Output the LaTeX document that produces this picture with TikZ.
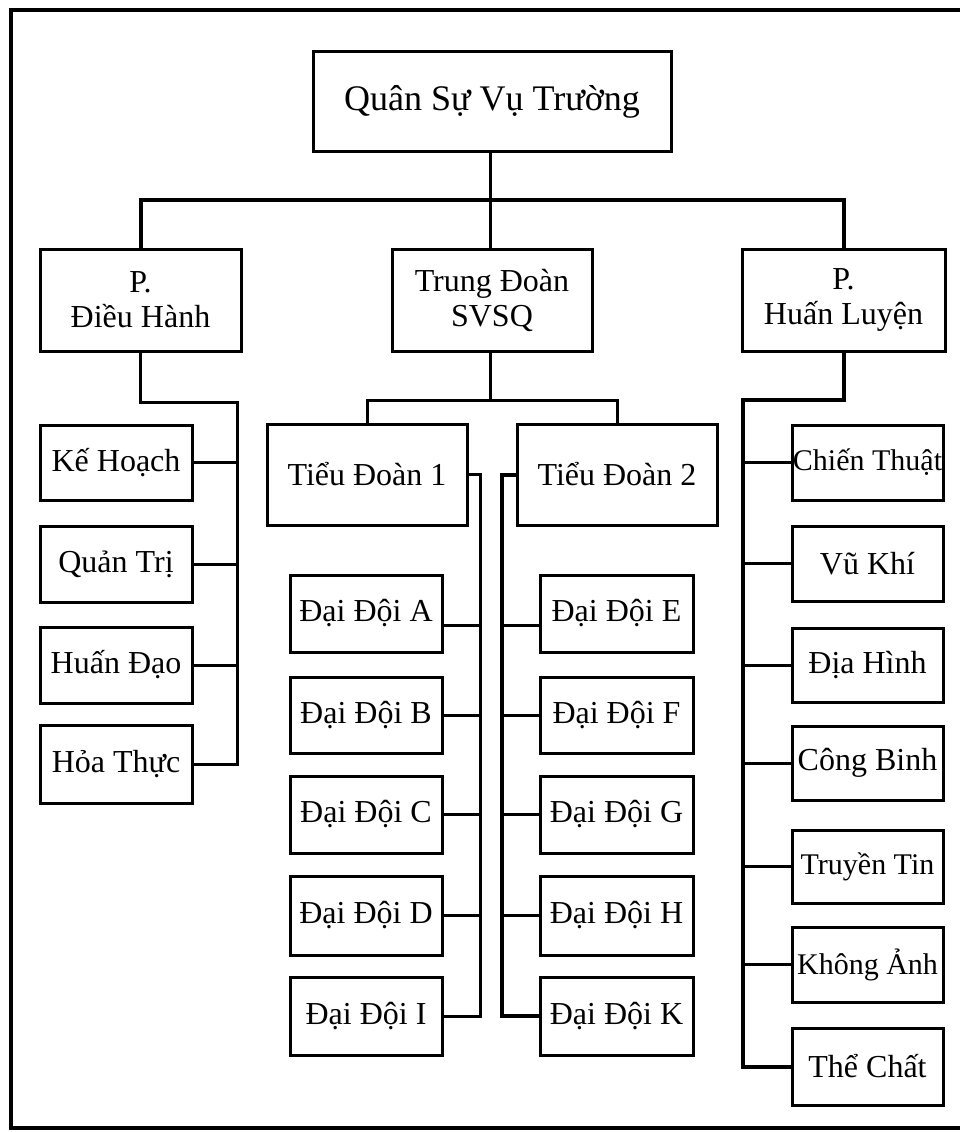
\documentclass[tikz,border=0pt]{standalone}
\usepackage{fontspec}
\setmainfont{Liberation Serif}
\begin{document}
\begin{tikzpicture}[x=1pt,y=-1pt,
  box/.style={draw,line width=3pt,inner sep=0pt,font=\fontsize{32}{35}\selectfont,align=center},
  smallbox/.style={box,font=\fontsize{30}{32}\selectfont},
  conn/.style={line width=3pt},
  thickconn/.style={line width=4pt},
  frame/.style={line width=4pt}]
\useasboundingbox (0,0) rectangle (960,1132);
\draw[frame] (962,10) -- (11,10) -- (11,1128) -- (962,1128);

% top level
\node[box,font=\fontsize{36}{40}\selectfont,minimum width=358,minimum height=99] (top) at (492,101.5) {Quân Sự Vụ Trường};
\node[box,minimum width=201,minimum height=102] (pdh) at (140.5,300) {P.\\Điều Hành};
\node[box,minimum width=200,minimum height=102] (tds) at (492,300) {Trung Đoàn\\SVSQ};
\node[box,minimum width=203,minimum height=102] (phl) at (843.5,300) {P.\\Huấn Luyện};

% left column
\node[box,minimum width=152,minimum height=75] (kh) at (116,462.5) {Kế Hoạch};
\node[box,minimum width=152,minimum height=76] (qt) at (116,564) {Quản Trị};
\node[box,minimum width=152,minimum height=76] (hd) at (116,665) {Huấn Đạo};
\node[box,minimum width=152,minimum height=78] (ht) at (116,764) {Hỏa Thực};

% battalions
\node[box,minimum width=200,minimum height=101] (td1) at (367,474.5) {Tiểu Đoàn 1};
\node[box,minimum width=200,minimum height=101] (td2) at (617,474.5) {Tiểu Đoàn 2};

% companies left
\node[box,minimum width=152,minimum height=77] (dda) at (366,613.5) {Đại Đội A};
\node[box,minimum width=152,minimum height=76] (ddb) at (366,715) {Đại Đội B};
\node[box,minimum width=152,minimum height=77] (ddc) at (366,814.5) {Đại Đội C};
\node[box,minimum width=152,minimum height=79] (ddd) at (366,915.5) {Đại Đội D};
\node[box,minimum width=152,minimum height=78] (ddi) at (366,1016) {Đại Đội I};

% companies right
\node[box,minimum width=153,minimum height=77] (dde) at (616.5,613.5) {Đại Đội E};
\node[box,minimum width=153,minimum height=76] (ddf) at (616.5,715) {Đại Đội F};
\node[box,minimum width=153,minimum height=77] (ddg) at (616.5,814.5) {Đại Đội G};
\node[box,minimum width=153,minimum height=79] (ddh) at (616.5,915.5) {Đại Đội H};
\node[box,minimum width=153,minimum height=78] (ddk) at (616.5,1016) {Đại Đội K};

% right column
\node[smallbox,minimum width=151,minimum height=75] (ct) at (867.5,462.5) {Chiến Thuật};
\node[box,minimum width=151,minimum height=75] (vk) at (867.5,563.5) {Vũ Khí};
\node[box,minimum width=151,minimum height=74] (dh) at (867.5,665) {Địa Hình};
\node[box,minimum width=151,minimum height=74] (cb) at (867.5,763) {Công Binh};
\node[smallbox,minimum width=151,minimum height=73] (tt) at (867.5,866.5) {Truyền Tin};
\node[smallbox,minimum width=151,minimum height=75] (ka) at (867.5,964.5) {Không Ảnh};
\node[box,minimum width=151,minimum height=77] (tc) at (867.5,1066.5) {Thể Chất};

% connectors: top
\coordinate (b1) at (490,200);
\draw[conn] (top.south -| b1) -- (b1);
\draw[thickconn] (pdh.north) |- (b1) -| (phl.north);
\draw[conn] (b1) -- (b1 |- tds.north);

% left branch
\coordinate (lv) at (237,402);
\draw[conn] (pdh.south) |- (lv) |- (ht.east);
\foreach \n in {kh,qt,hd} \draw[conn] (\n.east) -- (\n.east -| lv);

% middle branch
\coordinate (b2) at (490,400);
\draw[conn] (b2 |- tds.south) -- (b2);
\draw[conn] (td1.north) |- (b2) -| (td2.north);
\coordinate (v1) at (480,474.5);
\coordinate (v2) at (502,474.5);
\draw[conn] (td1.east) -- (v1) |- (ddi.east);
\draw[thickconn] (td2.west) -- (v2) |- (ddk.west);
\draw[conn] ([yshift=-12pt]dda.east) -- ([yshift=-12pt]dda.east -| v1);
\foreach \n in {ddb,ddc,ddd} \draw[conn] (\n.east) -- (\n.east -| v1);
\draw[conn] ([yshift=-12pt]dde.west) -- ([yshift=-12pt]dde.west -| v2);
\foreach \n in {ddf,ddg,ddh} \draw[conn] (\n.west) -- (\n.west -| v2);

% right branch
\coordinate (rv) at (743,400);
\draw[thickconn] (phl.south) |- (rv) |- (tc.west);
\foreach \n in {ct,vk,dh,cb,tt,ka} \draw[conn] (\n.west) -- (\n.west -| rv);
\end{tikzpicture}
\end{document}
